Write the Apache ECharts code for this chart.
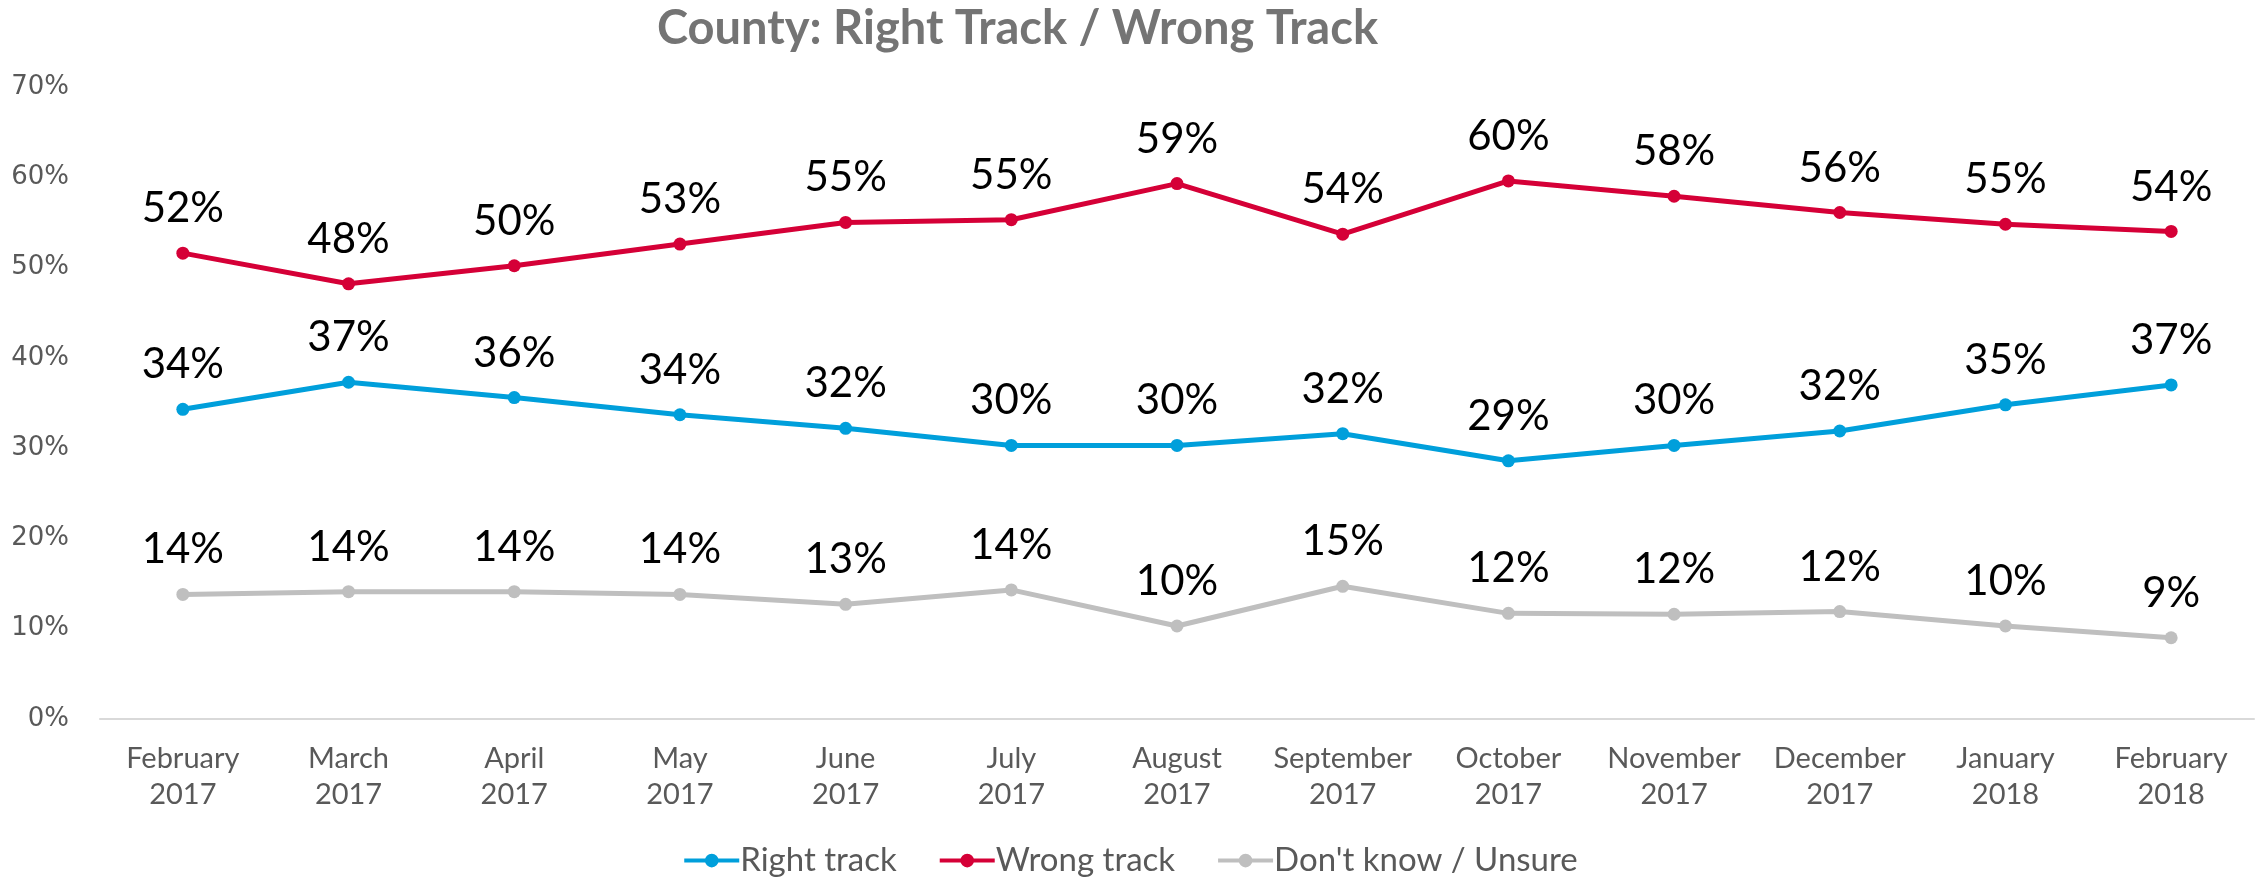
<!DOCTYPE html>
<html>
<head>
<meta charset="utf-8">
<script src="https://cdn.jsdelivr.net/npm/echarts@6/dist/echarts.min.js"></script>
<style>
  html, body { margin: 0; padding: 0; background: #fff; }
  #ChartDom { width: 2262px; height: 882px; }
</style>
</head>
<body>
<div id="ChartDom"></div>
<script>
const categories = [
  "February\n2017", "March\n2017", "April\n2017", "May\n2017", "June\n2017",
  "July\n2017", "August\n2017", "September\n2017", "October\n2017",
  "November\n2017", "December\n2017", "January\n2018", "February\n2018"
]
const rightTrack = [34.3, 37.3, 35.6, 33.7, 32.2, 30.3, 30.3, 31.6, 28.6, 30.3, 31.9, 34.8, 37.0]
const wrongTrack = [51.6, 48.2, 50.2, 52.6, 55.0, 55.3, 59.3, 53.7, 59.6, 57.9, 56.1, 54.8, 54.0]
const dontKnow = [13.8, 14.1, 14.1, 13.8, 12.7, 14.3, 10.3, 14.7, 11.7, 11.6, 11.9, 10.3, 9.0]
const yTicks = [0, 10, 20, 30, 40, 50, 60, 70]

const chartDom = document.getElementById("ChartDom")
const myChart = echarts.init(chartDom)

const bodyFont = "Lato, Carlito, sans-serif"
// line + dot marker for the legend, like the office chart
const legendIcon = "path://M0,5 H56 V9 H0 Z M21,7 A7,7 0 1 1 35,7 A7,7 0 1 1 21,7 Z"

function lineSeries(name, data, color) {
  return {
    name: name,
    type: "line",
    data: data,
    symbol: "circle",
    symbolSize: 13,
    lineStyle: { width: 5, color: color },
    itemStyle: { color: color },
    label: {
      show: true,
      position: "top",
      distance: 17,
      color: "#000",
      fontFamily: bodyFont,
      fontSize: 42,
      formatter: p => Math.round(p.value) + "%",
    },
  }
}

myChart.setOption({
  animation: false,
  title: {
    text: "County: Right Track / Wrong Track",
    left: 652,
    top: 0,
    textStyle: { color: "#747474", fontFamily: bodyFont, fontSize: 47, fontWeight: "bold" },
  },
  legend: {
    bottom: 0,
    left: "center",
    icon: legendIcon,
    itemWidth: 55,
    itemHeight: 14,
    itemGap: 43,
    textStyle: { color: "#595959", fontFamily: bodyFont, fontSize: 33, padding: [0, 0, 0, -4] },
    data: ["Right track", "Wrong track", "Don't know / Unsure"],
  },
  grid: { top: 87, left: 100, right: 8, bottom: 163 },
  xAxis: {
    type: "category",
    data: categories,
    boundaryGap: true,
    axisLine: { show: true, lineStyle: { color: "#d9d9d9", width: 2 } },
    axisTick: { show: false },
    splitLine: { show: false },
    axisLabel: { color: "#595959", fontFamily: bodyFont, fontSize: 29, lineHeight: 36, margin: 22, interval: 0 },
  },
  yAxis: {
    type: "value",
    min: yTicks[0],
    max: yTicks[yTicks.length - 1],
    interval: 10,
    axisLine: { show: false },
    axisTick: { show: false },
    splitLine: { show: false },
    axisLabel: { color: "#595959", fontFamily: "DejaVu Sans", fontSize: 26, margin: 31, formatter: v => v + "%" },
  },
  series: [
    lineSeries("Right track", rightTrack, "#009fdb"),
    lineSeries("Wrong track", wrongTrack, "#d50037"),
    lineSeries("Don't know / Unsure", dontKnow, "#bfbfbf"),
  ],
})
window.addEventListener("resize", () => myChart.resize(), { passive: true })
</script>
</body>
</html>
